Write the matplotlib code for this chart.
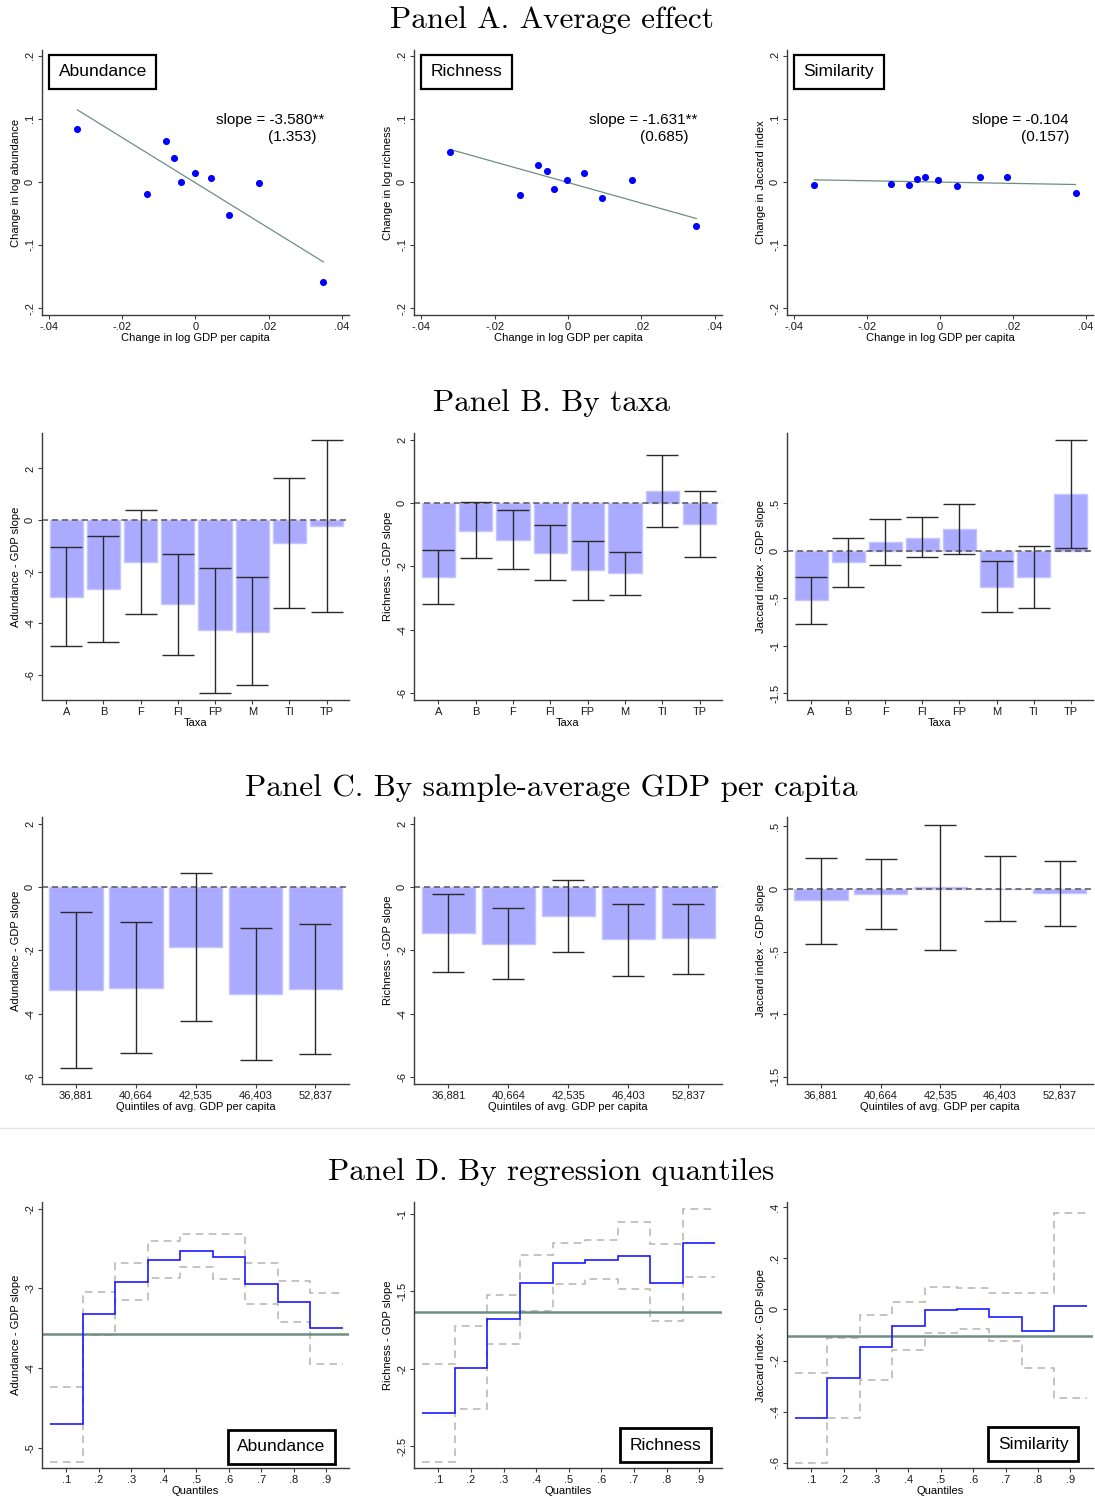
import numpy as np
import matplotlib.pyplot as plt

plt.rcParams['font.family'] = ['Liberation Sans', 'DejaVu Sans']
plt.rcParams['axes.unicode_minus'] = False

# ---- Panel A: binned changes
abund_x = [-0.0323, -0.0133, -0.0082, -0.0059, -0.0040, -0.0002, 0.0042, 0.0092, 0.0174, 0.0350]
abund_y = [0.0834, -0.0195, 0.0654, 0.0380, 0.0000, 0.0142, 0.0069, -0.0522, -0.0010, -0.1580]
rich_x = [-0.0321, -0.0132, -0.0081, -0.0058, -0.0039, -0.0002, 0.0044, 0.0093, 0.0174, 0.0350]
rich_y = [0.0470, -0.0216, 0.0269, 0.0174, -0.0111, 0.0037, 0.0148, -0.0259, 0.0037, -0.0697]
simil_x = [-0.0345, -0.0135, -0.0086, -0.0062, -0.0040, -0.0005, 0.0048, 0.0111, 0.0185, 0.0372]
simil_y = [-0.0042, -0.0032, -0.0042, 0.0042, 0.0084, 0.0026, -0.0063, 0.0074, 0.0084, -0.0169]
slopes = [-3.580, -1.631, -0.104]
slope_txt = ['slope = -3.580**', 'slope = -1.631**', 'slope = -0.104']
se_txt = ['(1.353)', '(0.685)', '(0.157)']
names = ['Abundance', 'Richness', 'Similarity']
a_ylabels = ['Change in log abundance', 'Change in log richness', 'Change in Jaccard index']
slope_ylabels = ['Adundance - GDP slope', 'Richness - GDP slope', 'Jaccard index - GDP slope']

# ---- Panel B: by taxa
taxa = ['A', 'B', 'F', 'FI', 'FP', 'M', 'TI', 'TP']
taxa_abund = [-2.97, -2.67, -1.63, -3.26, -4.27, -4.32, -0.90, -0.23]
taxa_abund_lo = [-4.86, -4.72, -3.65, -5.21, -6.70, -6.37, -3.39, -3.55]
taxa_abund_hi = [-1.06, -0.63, 0.40, -1.33, -1.85, -2.22, 1.64, 3.08]
taxa_rich = [-2.32, -0.87, -1.15, -1.56, -2.12, -2.22, 0.38, -0.64]
taxa_rich_lo = [-3.18, -1.73, -2.09, -2.44, -3.07, -2.89, -0.76, -1.71]
taxa_rich_hi = [-1.48, 0.03, -0.20, -0.67, -1.18, -1.54, 1.54, 0.40]
taxa_simil = [-0.523, -0.123, 0.088, 0.137, 0.232, -0.379, -0.274, 0.593]
taxa_simil_lo = [-0.772, -0.382, -0.147, -0.070, -0.035, -0.646, -0.600, 0.025]
taxa_simil_hi = [-0.274, 0.137, 0.330, 0.358, 0.495, -0.112, 0.053, 1.161]

# ---- Panel C: by quintile of average GDP per capita
quint = ['36,881', '40,664', '42,535', '46,403', '52,837']
quint_abund = [-3.24, -3.18, -1.875, -3.37, -3.21]
quint_abund_lo = [-5.72, -5.26, -4.23, -5.48, -5.29]
quint_abund_hi = [-0.79, -1.11, 0.47, -1.28, -1.15]
quint_rich = [-1.43, -1.78, -0.92, -1.65, -1.61]
quint_rich_lo = [-2.67, -2.90, -2.06, -2.80, -2.74]
quint_rich_hi = [-0.22, -0.645, 0.22, -0.54, -0.52]
quint_simil = [-0.090, -0.042, 0.013, 0.002, -0.032]
quint_simil_lo = [-0.440, -0.323, -0.485, -0.257, -0.297]
quint_simil_hi = [0.249, 0.241, 0.511, 0.262, 0.220]

# ---- Panel D: quantile regressions
quantiles = np.array([0.1, 0.2, 0.3, 0.4, 0.5, 0.6, 0.7, 0.8, 0.9])
qr_abund = [-4.707, -3.322, -2.916, -2.640, -2.527, -2.603, -2.941, -3.167, -3.502]
qr_abund_hi = [-4.238, -3.050, -2.682, -2.406, -2.318, -2.318, -2.682, -2.904, -3.063]
qr_abund_lo = [-5.180, -3.582, -3.142, -2.874, -2.732, -2.887, -3.197, -3.423, -3.946]
qr_rich = [-2.285, -1.993, -1.677, -1.445, -1.320, -1.297, -1.271, -1.445, -1.189]
qr_rich_hi = [-1.971, -1.724, -1.522, -1.269, -1.191, -1.170, -1.052, -1.198, -0.972]
qr_rich_lo = [-2.601, -2.261, -1.838, -1.625, -1.451, -1.421, -1.488, -1.694, -1.411]
qr_simil = [-0.425, -0.268, -0.147, -0.063, -0.003, 0.003, -0.029, -0.084, 0.013]
qr_simil_hi = [-0.249, -0.112, -0.020, 0.029, 0.087, 0.083, 0.064, 0.063, 0.376]
qr_simil_lo = [-0.600, -0.425, -0.275, -0.157, -0.091, -0.078, -0.125, -0.230, -0.347]

W, H = 1095, 1503
fig = plt.figure(figsize=(W / 100, H / 100), dpi=100)

cols = [(42, 349), (414, 722), (787, 1093)]
rows = [(50, 315), (433, 700), (817, 1084), (1202, 1468)]
AX_COL = '#3c3c3c'
BAR_COL = '#aaaaff'
FIT_COL = '#6e8f80'
FS = 8


def make_ax(r, c):
    x0, x1 = cols[c]
    y0, y1 = rows[r]
    ax = fig.add_axes([x0 / W, 1 - y1 / H, (x1 - x0) / W, (y1 - y0) / H])
    for s in ['top', 'right']:
        ax.spines[s].set_visible(False)
    for s in ['left', 'bottom']:
        ax.spines[s].set_color(AX_COL)
        ax.spines[s].set_linewidth(1.0)
    ax.tick_params(length=3, width=0.8, color=AX_COL, labelsize=FS,
                   labelcolor='#1a1a1a', pad=2)
    return ax


def set_yt(ax, vals, labels):
    ax.set_yticks(vals, labels)
    for lab in ax.get_yticklabels():
        lab.set_rotation(90)
        lab.set_va('center')


def name_box(ax, text, x, y, ha, lw):
    ax.text(x, y, text, transform=ax.transAxes, ha=ha, va='center', fontsize=12.5,
            bbox=dict(boxstyle='square,pad=0.55', fc='white', ec='black', lw=lw))


def title(y, text):
    fig.text(551.5 / W, 1 - y / H, text, ha='center', va='center',
             family='cmr10', fontsize=22.5)


title(20, 'Panel A. Average effect')
title(403, 'Panel B. By taxa')
title(788, 'Panel C. By sample-average GDP per capita')
title(1172, 'Panel D. By regression quantiles')

# separator between C and D
fig.add_artist(plt.Line2D([0, 1], [1 - 1128 / H, 1 - 1128 / H], color='#e4e4e4', lw=1))

# ---- Panel A
scat = [(abund_x, abund_y), (rich_x, rich_y), (simil_x, simil_y)]
se_pos = [0.893, 0.891, 0.922]
for c, (xs, ys) in enumerate(scat):
    ax = make_ax(0, c)
    xs = np.array(xs)
    ys = np.array(ys)
    b = ys.mean() - slopes[c] * xs.mean()
    xx = np.array([xs.min(), xs.max()])
    ax.plot(xx, b + slopes[c] * xx, color=FIT_COL, lw=0.9)
    ax.scatter(xs, ys, s=26, color='#0000ff', zorder=3, linewidths=0)
    ax.set_xlim(-0.042, 0.042)
    ax.set_ylim(-0.211, 0.209)
    ax.set_xticks([-0.04, -0.02, 0, 0.02, 0.04], ['-.04', '-.02', '0', '.02', '.04'])
    set_yt(ax, [-0.2, -0.1, 0, 0.1, 0.2], ['-.2', '-.1', '0', '.1', '.2'])
    ax.set_xlabel('Change in log GDP per capita', fontsize=FS, labelpad=1)
    ax.set_ylabel(a_ylabels[c], fontsize=FS, labelpad=3)
    ax.text(0.92, 0.736, slope_txt[c], transform=ax.transAxes, ha='right', va='center', fontsize=11)
    ax.text(se_pos[c], 0.672, se_txt[c], transform=ax.transAxes, ha='right', va='center', fontsize=11)
    name_box(ax, names[c], 0.054, 0.917, 'left', 1.6)


def bar_panel(r, c, cats, vals, lo, hi, ylim, yt, ytl, xlim, xlabel):
    ax = make_ax(r, c)
    x = np.arange(len(cats))
    vals = np.array(vals)
    ax.bar(x, vals, width=0.89, color=BAR_COL, edgecolor='#c6c6ff', lw=1, zorder=1)
    ax.axhline(0, color='#555555', lw=1.1, ls=(0, (4, 2.5)), zorder=2)
    ax.errorbar(x, vals, yerr=[vals - np.array(lo), np.array(hi) - vals], fmt='none',
                ecolor='#2a2a2a', elinewidth=1.0, capsize=11.5, capthick=1.0, zorder=3)
    ax.set_xlim(*xlim)
    ax.set_ylim(*ylim)
    ax.set_xticks(x, cats)
    set_yt(ax, yt, ytl)
    ax.set_xlabel(xlabel, fontsize=FS, labelpad=1)
    ax.set_ylabel(slope_ylabels[c], fontsize=FS, labelpad=3)
    return ax


big_t = [-6, -4, -2, 0, 2]
big_tl = ['-6', '-4', '-2', '0', '2']
jac_t = [-1.5, -1, -0.5, 0, 0.5]
jac_tl = ['-1.5', '-1', '-.5', '0', '.5']

# ---- Panel B
bar_panel(1, 0, taxa, taxa_abund, taxa_abund_lo, taxa_abund_hi, (-6.97, 3.37), big_t, big_tl, (-0.65, 7.6), 'Taxa')
bar_panel(1, 1, taxa, taxa_rich, taxa_rich_lo, taxa_rich_hi, (-6.23, 2.23), big_t, big_tl, (-0.65, 7.6), 'Taxa')
bar_panel(1, 2, taxa, taxa_simil, taxa_simil_lo, taxa_simil_hi, (-1.57, 1.236), jac_t, jac_tl, (-0.65, 7.6), 'Taxa')

# ---- Panel C
qlab = 'Quintiles of avg. GDP per capita'
bar_panel(2, 0, quint, quint_abund, quint_abund_lo, quint_abund_hi, (-6.23, 2.23), big_t, big_tl, (-0.57, 4.56), qlab)
bar_panel(2, 1, quint, quint_rich, quint_rich_lo, quint_rich_hi, (-6.23, 2.23), big_t, big_tl, (-0.57, 4.56), qlab)
bar_panel(2, 2, quint, quint_simil, quint_simil_lo, quint_simil_hi, (-1.558, 0.575), jac_t, jac_tl, (-0.57, 4.56), qlab)

# ---- Panel D
edges = np.append(quantiles - 0.05, quantiles[-1] + 0.05)
qr = [(qr_abund, qr_abund_lo, qr_abund_hi), (qr_rich, qr_rich_lo, qr_rich_hi),
      (qr_simil, qr_simil_lo, qr_simil_hi)]
d_ylim = [(-5.256, -1.917), (-2.64, -0.925), (-0.62, 0.42)]
d_yt = [([-5, -4, -3, -2], ['-5', '-4', '-3', '-2']),
        ([-2.5, -2, -1.5, -1], ['-2.5', '-2', '-1.5', '-1']),
        ([-0.6, -0.4, -0.2, 0, 0.2, 0.4], ['-.6', '-.4', '-.2', '0', '.2', '.4'])]
d_box = [(0.923, 0.079), (0.933, 0.085), (0.92, 0.09)]
for c in range(3):
    ax = make_ax(3, c)
    est, lo, hi = qr[c]
    ax.stairs(hi, edges, baseline=None, color='#b4b4b4', lw=1.1, ls=(0, (5, 3.5)))
    ax.stairs(lo, edges, baseline=None, color='#b4b4b4', lw=1.1, ls=(0, (5, 3.5)))
    ax.axhline(slopes[c], color=FIT_COL, lw=1.8, zorder=2)
    ax.stairs(est, edges, baseline=None, color='#1a1aff', lw=1.2, zorder=3)
    ax.set_xlim(0.025, 0.97)
    ax.set_ylim(*d_ylim[c])
    ax.set_xticks(quantiles, ['.1', '.2', '.3', '.4', '.5', '.6', '.7', '.8', '.9'])
    set_yt(ax, *d_yt[c])
    ax.set_xlabel('Quantiles', fontsize=FS, labelpad=1)
    ax.set_ylabel(slope_ylabels[c], fontsize=FS, labelpad=3)
    name_box(ax, names[c], d_box[c][0], d_box[c][1], 'right', 2.0)

fig.savefig('out.png', dpi=100)
